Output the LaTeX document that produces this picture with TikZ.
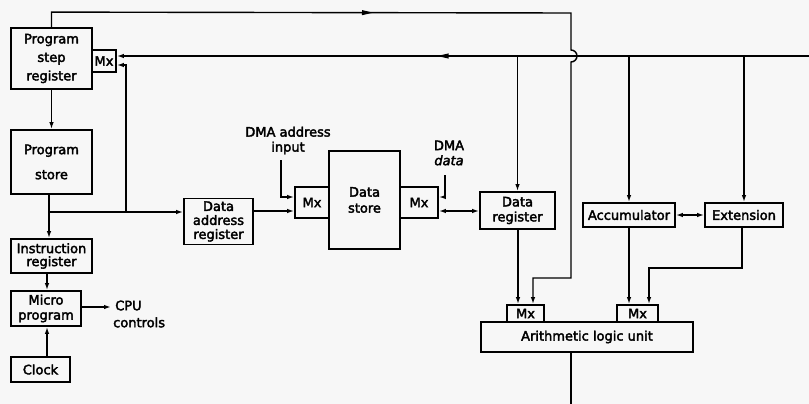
\documentclass[tikz,border=0pt]{standalone}
\usepackage{fontspec}
\setmainfont{DejaVu Sans}
\newcommand{\heavytext}{\special{pdf:literal direct 2 Tr 0.35 w}}
\usetikzlibrary{arrows.meta,decorations.markings}
\begin{document}
\begin{tikzpicture}[x=1pt,y=-1pt,
  box/.style={draw, line width=1.8pt, rectangle, inner sep=0pt, align=center,
     font=\fontsize{13}{16}\selectfont\heavytext},
  conn/.style={line width=1.4pt},
  tip/.style={-{Latex[length=7pt,width=4.5pt]}},
  both/.style={{Latex[length=7pt,width=4.5pt]}-{Latex[length=7pt,width=4.5pt]}},
  lbl/.style={inner sep=0pt, align=center, font=\fontsize{13}{15}\selectfont\heavytext},
  midarrow/.style={postaction={decorate}, decoration={markings,
     mark=at position #1 with {\fill (5.5pt,0) -- (-5.5pt,2.6pt) -- (-5.5pt,-2.6pt) -- cycle;}}}
]
\fill[black!3] (0,0) rectangle (809,404);
\useasboundingbox (0,0) rectangle (809,404);

% boxes
\node[box, minimum width=81pt, minimum height=61pt, font=\fontsize{13}{18.5}\selectfont\heavytext] (psr) at (51.5,58.5) {Program\\step\\register};
\node[box, minimum width=24pt, minimum height=22pt] (mx0) at (104,61) {Mx};
\node[box, minimum width=81pt, minimum height=64pt, font=\fontsize{13}{25}\selectfont\heavytext] (ps) at (51.5,162) {Program\\store};
\node[box, minimum width=81pt, minimum height=34pt, font=\fontsize{13}{13}\selectfont\heavytext] (ir) at (51.5,256) {Instruction\\register};
\node[box, minimum width=70pt, minimum height=35pt, font=\fontsize{13}{15}\selectfont\heavytext] (mp) at (46,308.5) {Micro\\program};
\node[box, minimum width=59pt, minimum height=25pt] (clk) at (40.5,369.5) {Clock};
\node[lbl, anchor=west, align=left, font=\fontsize{13}{17}\selectfont\heavytext] (cpu) at (113,314) {\hspace{2pt}CPU\\controls};

\node[box, minimum width=69pt, minimum height=46pt, font=\fontsize{13}{14}\selectfont\heavytext] (dar) at (218.5,221.5) {Data\\address\\register};
\node[box, minimum width=34pt, minimum height=31pt] (mx1) at (312,202.5) {Mx};
\node[box, minimum width=71pt, minimum height=98pt] (ds) at (364.5,200) {Data\\store};
\node[box, minimum width=38pt, minimum height=31pt] (mx2) at (419,202.5) {Mx};
\node[lbl] (dmaa) at (288,140.5) {DMA address\\input};
\node[lbl] (dmad) at (449,153) {DMA\\\textit{data}};

\node[box, minimum width=75pt, minimum height=37pt, font=\fontsize{13}{15}\selectfont\heavytext] (dr) at (517.5,210.5) {Data\\register};
\node[box, minimum width=92pt, minimum height=24pt] (acc) at (629,215) {Accumulator};
\node[box, minimum width=78pt, minimum height=24pt] (ext) at (744,215) {Extension};
\node[box, minimum width=37pt, minimum height=17pt] (amx1) at (525.5,313.5) {Mx};
\node[box, minimum width=41pt, minimum height=17pt] (amx2) at (637.5,313.5) {Mx};
\node[box, minimum width=212pt, minimum height=30pt] (alu) at (587,337) {Arithmetic logic unit};

% helper coordinates
\coordinate (busR) at (809,56);
\coordinate (aluOut) at (571,404);
\coordinate (dmaaTop) at (281,160);
\coordinate (dmadTop) at (445,175);
\coordinate (cpuEnd) at (111,307);

% top loop from program step register to ALU multiplexer
\draw[conn, tip, midarrow=331pt] (psr.north) -- ++(0,-15) -- (571,13) -- (571,50)
   arc(-90:90:6) -- (571,278) -| (amx1.north -| 533,0);

% bus
\draw[conn, tip, midarrow=366pt] (busR) -- (mx0.east |- busR);
\draw[conn, tip] (dr.north |- busR) -- (dr.north);
\draw[conn, tip] (acc.north |- busR) -- (acc.north);
\draw[conn, tip] (ext.north |- busR) -- (ext.north);

% left column
\draw[conn, tip] (psr.south) -- (ps.north);
\draw[conn, tip] (ps.south -| 49,0) -- (ir.north -| 49,0);
\draw[conn, tip] (49,212) -- (dar.west |- 0,212);
\draw[conn, tip] (126,212) |- (mx0.east |- 0,65);
\draw[conn, tip] (ir.south -| 47,0) -- (mp.north -| 47,0);
\draw[conn, tip] (clk.north -| 47,0) -- (mp.south -| 47,0);
\draw[conn, tip] (mp.east |- cpuEnd) -- (cpuEnd);

% data store area
\draw[conn, tip] (dar.east |- 0,211) -- (mx1.west |- 0,211);
\draw[conn, tip] (dmaaTop) |- (mx1.west |- 0,197);
\draw[conn, tip] (dmadTop) |- (mx2.east |- 0,197);
\draw[conn, both] (mx2.east |- 0,211) -- (dr.west |- 0,211);

% right side
\draw[conn, both] (acc.east) -- (ext.west);
\draw[conn, tip] (dr.south -| 518,0) -- (amx1.north -| 518,0);
\draw[conn, tip] (acc.south) -- (acc.south |- amx2.north);
\draw[conn, tip] (ext.south -| 742,0) -- (742,268) -| (amx2.north -| 649,0);
\draw[conn] (alu.south -| aluOut) -- (aluOut);
\end{tikzpicture}
\end{document}
